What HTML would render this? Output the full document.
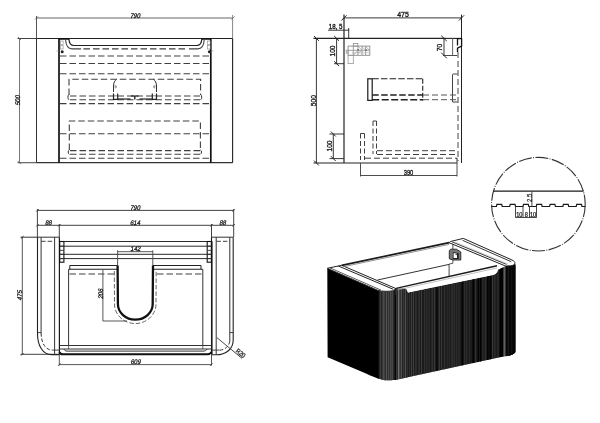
<!DOCTYPE html>
<html><head><meta charset="utf-8"><style>
html,body{margin:0;padding:0;background:#fff;width:600px;height:423px;overflow:hidden}
svg{display:block;will-change:transform;filter:blur(0.3px)}
text{font-family:"Liberation Sans",sans-serif}
</style></head><body>
<svg width="600" height="423" viewBox="0 0 600 423">
<defs>
<clipPath id="cc"><circle cx="538.4" cy="204.2" r="47.2"/></clipPath>
<clipPath id="fc"><path d="M378.6,290.6 C381.5,291.4 388,291.6 392.5,290.8 L395,288.6 L406,288.4 L408,292.5 L493,275 C496,274 497.5,272.5 497.8,270 L506.7,265.8 L511.7,265.4 C513.5,264.8 514.6,264.2 514.9,263.8 L515.6,265 L515.6,351.5 C515,354 510,356.3 504.4,356.3 L396.4,379.8 C394,380.2 390,380.5 385,380.2 C382.5,380 380.5,379.5 378.6,378.6 Z"/></clipPath>
</defs>
<rect width="600" height="423" fill="#fff"/>
<line x1="36.5" y1="18" x2="232.6" y2="18" stroke="#666" stroke-width="1.0"/>
<line x1="36.5" y1="16" x2="36.5" y2="38.5" stroke="#555" stroke-width="1.0"/>
<line x1="232.6" y1="15" x2="232.6" y2="38.5" stroke="#888" stroke-width="1.0"/>
<line x1="35" y1="19.5" x2="38" y2="16.5" stroke="#666" stroke-width="0.8"/>
<line x1="231.5" y1="19.5" x2="234.5" y2="16.5" stroke="#666" stroke-width="0.8"/>
<text transform="translate(135,17.7) scale(0.9,1) skewX(-12)" font-size="6.7" text-anchor="middle" fill="#1a1a1a" stroke="#1a1a1a" stroke-width="0.3">790</text>
<line x1="19.5" y1="38.5" x2="19.5" y2="162.7" stroke="#777" stroke-width="1.0"/>
<line x1="17.5" y1="38.5" x2="36.5" y2="38.5" stroke="#444" stroke-width="1.0"/>
<line x1="17.5" y1="162.7" x2="36.5" y2="162.7" stroke="#555" stroke-width="1.1"/>
<line x1="18" y1="161.2" x2="21" y2="164.2" stroke="#555" stroke-width="0.8"/>
<line x1="18" y1="37" x2="21" y2="40" stroke="#555" stroke-width="0.8"/>
<text transform="translate(20.2,100.5) rotate(-90) scale(0.9,1) skewX(-12)" font-size="6.7" text-anchor="middle" fill="#1a1a1a" stroke="#1a1a1a" stroke-width="0.3">500</text>
<line x1="36.5" y1="38.5" x2="232.6" y2="38.5" stroke="#222" stroke-width="1.1"/>
<line x1="36.5" y1="162.7" x2="232.6" y2="162.7" stroke="#333" stroke-width="1.2"/>
<line x1="36.5" y1="38.5" x2="36.5" y2="162.7" stroke="#333" stroke-width="1.0"/>
<line x1="232.6" y1="38.5" x2="232.6" y2="162.7" stroke="#222" stroke-width="1.1"/>
<line x1="59" y1="38.5" x2="59" y2="162.7" stroke="#111" stroke-width="1.7"/>
<line x1="210.8" y1="38.5" x2="210.8" y2="162.7" stroke="#111" stroke-width="1.7"/>
<path d="M69,38.7 C69,43 70,45.5 74,45.5 L196.5,45.5 C200.5,45.5 201.7,43 201.8,38.7" fill="none" stroke="#222" stroke-width="1.2"/>
<path d="M65.6,40 C66,45 67.5,48.9 72,48.9 L81,48.9" fill="none" stroke="#444" stroke-width="1.1"/>
<path d="M204.2,40 C203.8,45 202.3,48.9 197.8,48.9 L189,48.9" fill="none" stroke="#444" stroke-width="1.1"/>
<line x1="59" y1="38.9" x2="69" y2="38.9" stroke="#111" stroke-width="1.7"/>
<line x1="201.8" y1="38.9" x2="210.8" y2="38.9" stroke="#111" stroke-width="1.7"/>
<line x1="83.5" y1="48.9" x2="187" y2="48.9" stroke="#404040" stroke-width="1.1" stroke-dasharray="6.5,3"/>
<line x1="60" y1="56" x2="210" y2="56" stroke="#404040" stroke-width="1.1" stroke-dasharray="6.5,3"/>
<line x1="60" y1="63.5" x2="210" y2="63.5" stroke="#404040" stroke-width="1.1" stroke-dasharray="6.5,3"/>
<line x1="60" y1="73.8" x2="210" y2="73.8" stroke="#404040" stroke-width="1.1" stroke-dasharray="6.5,3"/>
<line x1="60" y1="103.6" x2="210" y2="103.6" stroke="#404040" stroke-width="1.1" stroke-dasharray="6.5,3"/>
<line x1="60" y1="133.8" x2="210" y2="133.8" stroke="#404040" stroke-width="1.1" stroke-dasharray="6.5,3"/>
<line x1="60" y1="158.3" x2="210" y2="158.3" stroke="#404040" stroke-width="1.1" stroke-dasharray="6.5,3"/>
<path d="M69,95 L69,79.3 L200.6,79.3 L200.6,95" fill="none" stroke="#404040" stroke-width="1.1" stroke-dasharray="6.5,3"/>
<path d="M69,94.5 C67.5,95.5 67.5,99 69,99.8" fill="none" stroke="#333" stroke-width="1.0"/>
<path d="M200.6,94.5 C202.1,95.5 202.1,99 200.6,99.8" fill="none" stroke="#333" stroke-width="1.0"/>
<line x1="70" y1="96" x2="200" y2="96" stroke="#404040" stroke-width="1.1" stroke-dasharray="6.5,3"/>
<line x1="70" y1="99.8" x2="200" y2="99.8" stroke="#404040" stroke-width="1.1" stroke-dasharray="6.5,3"/>
<path d="M69.3,150 L69.3,121 L200.4,121 L200.4,150" fill="none" stroke="#404040" stroke-width="1.1" stroke-dasharray="6.5,3"/>
<path d="M69.3,150 C67.8,150.5 67.8,153.5 69.3,154.3" fill="none" stroke="#333" stroke-width="1.0"/>
<path d="M200.4,150 C201.9,150.5 201.9,153.5 200.4,154.3" fill="none" stroke="#333" stroke-width="1.0"/>
<line x1="70" y1="150.6" x2="200" y2="150.6" stroke="#404040" stroke-width="1.1" stroke-dasharray="6.5,3"/>
<line x1="70" y1="154.3" x2="200" y2="154.3" stroke="#404040" stroke-width="1.1" stroke-dasharray="6.5,3"/>
<path d="M116.7,79.2 C114.7,80.5 113.5,83 113.5,86 L113.5,92" fill="none" stroke="#333" stroke-width="1.0"/>
<path d="M115.2,85 L115.2,88.5 M116.2,85.5 L116.2,88" fill="none" stroke="#555" stroke-width="0.6"/>
<path d="M113.5,93.5 L113.5,99.3 L117.7,99.3 L117.7,93.5" fill="none" stroke="#222" stroke-width="1.2"/>
<line x1="114.5" y1="95.8" x2="117.1" y2="95.8" stroke="#555" stroke-width="0.7"/>
<path d="M153.3,79.2 C155.3,80.5 156.5,83 156.5,86 L156.5,92" fill="none" stroke="#333" stroke-width="1.0"/>
<path d="M154.8,85 L154.8,88.5 M153.8,85.5 L153.8,88" fill="none" stroke="#555" stroke-width="0.6"/>
<path d="M156.5,93.5 L156.5,99.3 L152.3,99.3 L152.3,93.5" fill="none" stroke="#222" stroke-width="1.2"/>
<line x1="155.5" y1="95.8" x2="152.9" y2="95.8" stroke="#555" stroke-width="0.7"/>
<line x1="117.7" y1="99" x2="130.5" y2="99" stroke="#222" stroke-width="1.2"/>
<line x1="139.5" y1="99" x2="152.3" y2="99" stroke="#222" stroke-width="1.2"/>
<line x1="131" y1="96" x2="138.5" y2="96" stroke="#222" stroke-width="1.2"/>
<line x1="134.8" y1="96" x2="134.8" y2="99.5" stroke="#222" stroke-width="1.4"/>
<rect x="60.3" y="41" width="2.8" height="3.5" fill="none" stroke="#888" stroke-width="0.6"/>
<rect x="60.3" y="45.5" width="2.8" height="3.5" fill="none" stroke="#888" stroke-width="0.6"/>
<circle cx="62.199999999999996" cy="51.7" r="1.5" fill="#222"/>
<rect x="207.5" y="41" width="2.8" height="3.5" fill="none" stroke="#888" stroke-width="0.6"/>
<rect x="207.5" y="45.5" width="2.8" height="3.5" fill="none" stroke="#888" stroke-width="0.6"/>
<circle cx="209.4" cy="51.7" r="1.5" fill="#222"/>
<line x1="56.5" y1="51" x2="59" y2="51" stroke="#888" stroke-width="0.6"/>
<line x1="210.8" y1="51" x2="213.5" y2="51" stroke="#888" stroke-width="0.6"/>
<line x1="344" y1="17.9" x2="461.5" y2="17.9" stroke="#222" stroke-width="0.9"/>
<line x1="341.4" y1="20.5" x2="346.6" y2="15.299999999999999" stroke="#222" stroke-width="1.0"/>
<line x1="458.9" y1="20.5" x2="464.1" y2="15.299999999999999" stroke="#222" stroke-width="1.0"/>
<text transform="translate(403,16.9) scale(0.92,1)" font-size="7.6" text-anchor="middle" fill="#1a1a1a" stroke="#1a1a1a" stroke-width="0.35">475</text>
<line x1="344" y1="14.6" x2="344" y2="163" stroke="#222" stroke-width="1.2"/>
<line x1="461.5" y1="14.6" x2="461.5" y2="163" stroke="#222" stroke-width="1.0"/>
<text transform="translate(335.6,29.4) scale(0.86,1)" font-size="7.2" text-anchor="middle" fill="#1a1a1a" stroke="#1a1a1a" stroke-width="0.35">18, 5</text>
<line x1="328" y1="30.2" x2="349.2" y2="30.2" stroke="#222" stroke-width="0.9"/>
<line x1="348.7" y1="28" x2="348.7" y2="38.5" stroke="#222" stroke-width="0.9"/>
<line x1="313.5" y1="38.4" x2="446" y2="38.4" stroke="#222" stroke-width="1.1"/>
<line x1="313.5" y1="163" x2="457" y2="163" stroke="#222" stroke-width="1.1"/>
<line x1="316.4" y1="38.4" x2="316.4" y2="163" stroke="#222" stroke-width="0.9"/>
<line x1="314.0" y1="36.0" x2="318.79999999999995" y2="40.8" stroke="#222" stroke-width="1.0"/>
<line x1="314.0" y1="160.6" x2="318.79999999999995" y2="165.4" stroke="#222" stroke-width="1.0"/>
<text transform="translate(315.9,100.7) rotate(-90) scale(0.84,1)" font-size="8" text-anchor="middle" fill="#1a1a1a" stroke="#1a1a1a" stroke-width="0.35">500</text>
<line x1="336.6" y1="38.4" x2="336.6" y2="63.7" stroke="#222" stroke-width="0.9"/>
<line x1="334.20000000000005" y1="36.0" x2="339.0" y2="40.8" stroke="#222" stroke-width="1.0"/>
<line x1="334.20000000000005" y1="61.300000000000004" x2="339.0" y2="66.10000000000001" stroke="#222" stroke-width="1.0"/>
<line x1="334" y1="63.7" x2="344" y2="63.7" stroke="#222" stroke-width="0.9"/>
<text transform="translate(335.3,51) rotate(-90) scale(0.86,1)" font-size="7.8" text-anchor="middle" fill="#1a1a1a" stroke="#1a1a1a" stroke-width="0.35">100</text>
<line x1="333.3" y1="134" x2="333.3" y2="158.6" stroke="#222" stroke-width="0.9"/>
<line x1="330.90000000000003" y1="131.6" x2="335.7" y2="136.4" stroke="#222" stroke-width="1.0"/>
<line x1="330.90000000000003" y1="156.2" x2="335.7" y2="161.0" stroke="#222" stroke-width="1.0"/>
<line x1="329.5" y1="134" x2="344" y2="134" stroke="#222" stroke-width="0.9"/>
<line x1="329.5" y1="158.6" x2="344" y2="158.6" stroke="#222" stroke-width="0.9"/>
<text transform="translate(331.8,146) rotate(-90) scale(0.86,1)" font-size="7.8" text-anchor="middle" fill="#1a1a1a" stroke="#1a1a1a" stroke-width="0.35">100</text>
<line x1="444" y1="38.4" x2="444" y2="55.5" stroke="#222" stroke-width="0.9"/>
<line x1="441.2" y1="35.6" x2="446.8" y2="41.199999999999996" stroke="#222" stroke-width="1.0"/>
<line x1="441.2" y1="52.7" x2="446.8" y2="58.3" stroke="#222" stroke-width="1.0"/>
<line x1="443" y1="55.5" x2="457.2" y2="55.5" stroke="#333" stroke-width="0.9"/>
<text transform="translate(442.2,47.5) rotate(-90) scale(0.86,1)" font-size="7.8" text-anchor="middle" fill="#1a1a1a" stroke="#1a1a1a" stroke-width="0.35">70</text>
<line x1="446" y1="38.4" x2="461.5" y2="38.4" stroke="#222" stroke-width="1.1"/>
<path d="M457.5,45.4 L457.5,38.6 L461.6,38.6 L461.6,46 L457.5,48.2 L457.5,52" fill="none" stroke="#111" stroke-width="1.3"/>
<line x1="452.6" y1="38.4" x2="452.6" y2="55.5" stroke="#555" stroke-width="0.9"/>
<line x1="458" y1="52" x2="458" y2="161" stroke="#444" stroke-width="1.0" stroke-dasharray="6,3"/>
<path d="M457.5,74 L453.5,74 Q452.5,74 452.5,75 L452.5,102 L457.5,102" fill="none" stroke="#444" stroke-width="1.0"/>
<rect x="353.3" y="43.4" width="4.6" height="2.7" fill="none" stroke="#8c8c8c" stroke-width="0.8"/>
<rect x="348.1" y="46.1" width="21.7" height="9.2" fill="none" stroke="#8c8c8c" stroke-width="0.9"/>
<line x1="348.1" y1="50.3" x2="369.8" y2="50.3" stroke="#8c8c8c" stroke-width="0.8"/>
<line x1="352" y1="52.8" x2="369.8" y2="52.8" stroke="#aaa" stroke-width="0.6"/>
<line x1="353.3" y1="46.1" x2="353.3" y2="55.3" stroke="#8c8c8c" stroke-width="0.8"/>
<line x1="357.9" y1="46.1" x2="357.9" y2="55.3" stroke="#8c8c8c" stroke-width="0.8"/>
<line x1="362" y1="46.1" x2="362" y2="55.3" stroke="#8c8c8c" stroke-width="0.8"/>
<line x1="365.6" y1="46.1" x2="365.6" y2="55.3" stroke="#8c8c8c" stroke-width="0.8"/>
<line x1="357.9" y1="46.1" x2="362" y2="50.3" stroke="#999" stroke-width="0.7"/>
<line x1="362" y1="46.6" x2="365.6" y2="50.3" stroke="#999" stroke-width="0.7"/>
<line x1="365.6" y1="46.6" x2="369.8" y2="50.3" stroke="#999" stroke-width="0.7"/>
<line x1="353.3" y1="55.3" x2="357.9" y2="50.3" stroke="#999" stroke-width="0.7"/>
<line x1="358" y1="53" x2="362" y2="50.3" stroke="#999" stroke-width="0.7"/>
<circle cx="358.2" cy="49.8" r="0.9" fill="#666"/><circle cx="366.2" cy="50.1" r="0.9" fill="#666"/>
<rect x="346.2" y="50.1" width="1.9" height="3.1" fill="none" stroke="#8c8c8c" stroke-width="0.7"/>
<rect x="348.1" y="55.3" width="5.2" height="8.3" fill="none" stroke="#999" stroke-width="0.8"/>
<rect x="367.8" y="78.8" width="4.4" height="21.6" fill="none" stroke="#1a1a1a" stroke-width="1.2"/>
<line x1="372.2" y1="78.8" x2="422.7" y2="78.8" stroke="#222" stroke-width="1.1" stroke-dasharray="6.5,2.2"/>
<line x1="422.7" y1="78.8" x2="422.7" y2="100.4" stroke="#333" stroke-width="1.2" stroke-dasharray="5,2"/>
<line x1="372.2" y1="95" x2="423" y2="95" stroke="#222" stroke-width="1.5" stroke-dasharray="6.5,2.5"/>
<line x1="423" y1="95" x2="457" y2="95" stroke="#555" stroke-width="1.0" stroke-dasharray="6,3"/>
<line x1="372.2" y1="99.7" x2="423" y2="99.7" stroke="#222" stroke-width="1.4" stroke-dasharray="7,2.5"/>
<line x1="423" y1="99.7" x2="457" y2="99.7" stroke="#555" stroke-width="1.0" stroke-dasharray="6,3"/>
<line x1="360.5" y1="133.5" x2="360.5" y2="160" stroke="#404040" stroke-width="1.0" stroke-dasharray="5,2.5"/>
<line x1="364.5" y1="133.5" x2="364.5" y2="160" stroke="#404040" stroke-width="1.0" stroke-dasharray="5,2.5"/>
<line x1="360.5" y1="133.5" x2="364.5" y2="133.5" stroke="#404040" stroke-width="1.0"/>
<line x1="373" y1="121" x2="373" y2="154" stroke="#404040" stroke-width="1.0" stroke-dasharray="5,2.5"/>
<line x1="376.5" y1="121" x2="376.5" y2="154" stroke="#404040" stroke-width="1.0" stroke-dasharray="5,2.5"/>
<line x1="373" y1="121" x2="376.5" y2="121" stroke="#404040" stroke-width="1.0"/>
<line x1="377" y1="150.7" x2="457" y2="150.7" stroke="#404040" stroke-width="1.0" stroke-dasharray="6,3"/>
<line x1="377" y1="154.5" x2="457" y2="154.5" stroke="#404040" stroke-width="1.0" stroke-dasharray="6,3"/>
<line x1="365" y1="158.2" x2="457" y2="158.2" stroke="#404040" stroke-width="1.0" stroke-dasharray="6,3"/>
<line x1="457" y1="158" x2="457" y2="163" stroke="#333" stroke-width="1.0"/>
<line x1="360.5" y1="163" x2="360.5" y2="176.5" stroke="#3a3a3a" stroke-width="0.9"/>
<line x1="457" y1="163" x2="457" y2="176.5" stroke="#3a3a3a" stroke-width="0.9"/>
<line x1="360.5" y1="175.5" x2="457" y2="175.5" stroke="#3a3a3a" stroke-width="0.9"/>
<text transform="translate(408.5,174.6) scale(0.82,1)" font-size="7" text-anchor="middle" fill="#222" stroke="#222" stroke-width="0.35">390</text>
<circle cx="538.4" cy="204.2" r="46.8" fill="none" stroke="#333" stroke-width="1.1" stroke-dasharray="13,1.4,0.9,1.4"/>
<line x1="493.3" y1="191.2" x2="583.5" y2="191.2" stroke="#1a1a1a" stroke-width="1.3"/>
<path d="M490,206.5 L483.10,206.5 L483.60,204.4 L488.40,204.4 L488.90,206.5 L496.40,206.5 L496.90,204.4 L501.70,204.4 L502.20,206.5 L509.70,206.5 L510.20,204.4 L515.00,204.4 L515.50,206.5 L523.00,206.5 L523.50,204.4 L528.30,204.4 L528.80,206.5 L536.30,206.5 L536.80,204.4 L541.60,204.4 L542.10,206.5 L549.60,206.5 L550.10,204.4 L554.90,204.4 L555.40,206.5 L562.90,206.5 L563.40,204.4 L568.20,204.4 L568.70,206.5 L576.20,206.5 L576.70,204.4 L581.50,204.4 L582.00,206.5 L589.50,206.5 L590.00,204.4 L594.80,204.4 L595.30,206.5" fill="none" stroke="#1a1a1a" stroke-width="1.2" clip-path="url(#cc)"/>
<line x1="515.5" y1="206.3" x2="515.5" y2="217.5" stroke="#333" stroke-width="0.9"/>
<line x1="523" y1="206.3" x2="523" y2="217.5" stroke="#333" stroke-width="0.9"/>
<line x1="529.5" y1="206.3" x2="529.5" y2="217.5" stroke="#333" stroke-width="0.9"/>
<line x1="536.5" y1="206.3" x2="536.5" y2="217.5" stroke="#333" stroke-width="0.9"/>
<line x1="515.5" y1="217.5" x2="536.5" y2="217.5" stroke="#333" stroke-width="0.9"/>
<text transform="translate(519.3,216.8) scale(0.85,1)" font-size="6.6" text-anchor="middle" fill="#1a1a1a" stroke="#1a1a1a" stroke-width="0.25">10</text>
<text transform="translate(526.3,216.8) scale(0.85,1)" font-size="6.6" text-anchor="middle" fill="#1a1a1a" stroke="#1a1a1a" stroke-width="0.25">8</text>
<text transform="translate(533.1,216.8) scale(0.85,1)" font-size="6.6" text-anchor="middle" fill="#1a1a1a" stroke="#1a1a1a" stroke-width="0.25">10</text>
<line x1="531.9" y1="191.5" x2="531.9" y2="206" stroke="#333" stroke-width="0.9"/>
<text transform="translate(532.3,197.8) rotate(-90) scale(0.9,1)" font-size="6.6" text-anchor="middle" fill="#1a1a1a" stroke="#1a1a1a" stroke-width="0.2">2.5</text>
<line x1="37.4" y1="210.4" x2="233.7" y2="210.4" stroke="#444" stroke-width="1.0"/>
<line x1="37.4" y1="209" x2="37.4" y2="237.2" stroke="#444" stroke-width="1.0"/>
<line x1="233.7" y1="209" x2="233.7" y2="237.2" stroke="#444" stroke-width="1.0"/>
<text transform="translate(135,209.6) scale(0.9,1) skewX(-12)" font-size="6.7" text-anchor="middle" fill="#1a1a1a" stroke="#1a1a1a" stroke-width="0.3">790</text>
<line x1="37.4" y1="225.3" x2="233.7" y2="225.3" stroke="#444" stroke-width="1.0"/>
<line x1="59.3" y1="224" x2="59.3" y2="237.2" stroke="#444" stroke-width="1.0"/>
<line x1="211.5" y1="224" x2="211.5" y2="237.2" stroke="#444" stroke-width="1.0"/>
<line x1="36.199999999999996" y1="226.5" x2="38.6" y2="224.1" stroke="#333" stroke-width="0.9"/>
<line x1="58.099999999999994" y1="226.5" x2="60.5" y2="224.1" stroke="#333" stroke-width="0.9"/>
<line x1="210.3" y1="226.5" x2="212.7" y2="224.1" stroke="#333" stroke-width="0.9"/>
<line x1="232.5" y1="226.5" x2="234.89999999999998" y2="224.1" stroke="#333" stroke-width="0.9"/>
<line x1="36.2" y1="211.6" x2="38.6" y2="209.2" stroke="#333" stroke-width="0.9"/>
<line x1="232.5" y1="211.6" x2="234.9" y2="209.2" stroke="#333" stroke-width="0.9"/>
<text transform="translate(48.3,224.5) scale(0.9,1) skewX(-12)" font-size="6.7" text-anchor="middle" fill="#1a1a1a" stroke="#1a1a1a" stroke-width="0.3">88</text>
<text transform="translate(135,224.5) scale(0.9,1) skewX(-12)" font-size="6.7" text-anchor="middle" fill="#1a1a1a" stroke="#1a1a1a" stroke-width="0.3">614</text>
<text transform="translate(222.6,224.5) scale(0.9,1) skewX(-12)" font-size="6.7" text-anchor="middle" fill="#1a1a1a" stroke="#1a1a1a" stroke-width="0.3">88</text>
<line x1="22.3" y1="237.2" x2="22.3" y2="354.3" stroke="#555" stroke-width="1.0"/>
<line x1="20.5" y1="237.2" x2="59.3" y2="237.2" stroke="#333" stroke-width="1.0"/>
<line x1="20.5" y1="354.3" x2="59.3" y2="354.3" stroke="#444" stroke-width="1.0"/>
<line x1="21" y1="238.5" x2="23.6" y2="236" stroke="#333" stroke-width="0.9"/>
<line x1="21" y1="355.6" x2="23.6" y2="353" stroke="#333" stroke-width="0.9"/>
<text transform="translate(22.4,295.5) rotate(-90) scale(0.9,1) skewX(-12)" font-size="6.7" text-anchor="middle" fill="#1a1a1a" stroke="#1a1a1a" stroke-width="0.3">475</text>
<path d="M37.5,237.2 L37.5,333.5 C37.5,346 43,354.6 51.5,354.6 L59.4,354.6" fill="none" stroke="#222" stroke-width="1.1"/>
<line x1="41.1" y1="237.2" x2="41.1" y2="333" stroke="#333" stroke-width="1.0"/>
<line x1="37.5" y1="332.6" x2="41.1" y2="332.6" stroke="#333" stroke-width="0.9"/>
<path d="M41.1,333 C41.1,343 45.5,350.1 52.5,350.1" fill="none" stroke="#333" stroke-width="1.0" stroke-dasharray="3.5,2"/>
<line x1="52.5" y1="350.1" x2="59.4" y2="350.1" stroke="#333" stroke-width="0.9"/>
<line x1="41.1" y1="241.3" x2="54.4" y2="241.3" stroke="#404040" stroke-width="1.0" stroke-dasharray="4.5,2"/>
<line x1="54.6" y1="237.2" x2="54.6" y2="354.6" stroke="#333" stroke-width="1.0"/>
<line x1="59.4" y1="237.2" x2="59.4" y2="354.6" stroke="#1a1a1a" stroke-width="1.2"/>
<path d="M233.2,237.2 L233.2,340 C233.2,349 226,354.8 216.2,354.8 L211.6,354.8" fill="none" stroke="#222" stroke-width="1.1"/>
<line x1="229.8" y1="237.2" x2="229.8" y2="341.2" stroke="#333" stroke-width="1.0"/>
<line x1="229.8" y1="332.6" x2="233.2" y2="332.6" stroke="#333" stroke-width="0.9"/>
<path d="M229.8,341.2 C229,346 225,350.1 219.5,350.1" fill="none" stroke="#333" stroke-width="1.0" stroke-dasharray="3.5,2"/>
<line x1="219.5" y1="350.1" x2="211.6" y2="350.1" stroke="#333" stroke-width="0.9"/>
<line x1="216.4" y1="241.3" x2="229.8" y2="241.3" stroke="#404040" stroke-width="1.0" stroke-dasharray="4.5,2"/>
<line x1="216.2" y1="237.2" x2="216.2" y2="354.8" stroke="#333" stroke-width="1.0"/>
<line x1="212.4" y1="241.3" x2="212.4" y2="354.8" stroke="#444" stroke-width="0.8"/>
<line x1="211.5" y1="237.2" x2="211.5" y2="354.8" stroke="#1a1a1a" stroke-width="1.1"/>
<line x1="211.5" y1="237.2" x2="233.2" y2="237.2" stroke="#333" stroke-width="1.0"/>
<line x1="217" y1="337.7" x2="242" y2="358.4" stroke="#333" stroke-width="0.9"/>
<text transform="translate(239.3,354.9) rotate(39) scale(0.85,1)" font-size="6.6" text-anchor="middle" fill="#1a1a1a" stroke="#1a1a1a" stroke-width="0.3">R20</text>
<line x1="60" y1="241.5" x2="211" y2="241.5" stroke="#2a2a2a" stroke-width="1.0"/>
<line x1="60" y1="246.2" x2="211" y2="246.2" stroke="#2a2a2a" stroke-width="1.0"/>
<line x1="60" y1="254.3" x2="211" y2="254.3" stroke="#2a2a2a" stroke-width="1.0"/>
<line x1="60" y1="258.6" x2="211" y2="258.6" stroke="#2a2a2a" stroke-width="1.0"/>
<rect x="59.7" y="241.5" width="4.2" height="20.7" fill="none" stroke="#111" stroke-width="1.1"/>
<line x1="59.7" y1="246.2" x2="63.900000000000006" y2="246.2" stroke="#333" stroke-width="0.9"/>
<line x1="59.7" y1="250.4" x2="63.900000000000006" y2="250.4" stroke="#333" stroke-width="0.9"/>
<line x1="59.7" y1="254.3" x2="63.900000000000006" y2="254.3" stroke="#333" stroke-width="0.9"/>
<line x1="59.7" y1="258.6" x2="63.900000000000006" y2="258.6" stroke="#333" stroke-width="0.9"/>
<rect x="207.2" y="241.5" width="4.2" height="20.7" fill="none" stroke="#111" stroke-width="1.1"/>
<line x1="207.2" y1="246.2" x2="211.39999999999998" y2="246.2" stroke="#333" stroke-width="0.9"/>
<line x1="207.2" y1="250.4" x2="211.39999999999998" y2="250.4" stroke="#333" stroke-width="0.9"/>
<line x1="207.2" y1="254.3" x2="211.39999999999998" y2="254.3" stroke="#333" stroke-width="0.9"/>
<line x1="207.2" y1="258.6" x2="211.39999999999998" y2="258.6" stroke="#333" stroke-width="0.9"/>
<line x1="117.6" y1="251.7" x2="152.8" y2="251.7" stroke="#444" stroke-width="0.9"/>
<line x1="117.6" y1="250.3" x2="117.6" y2="265.5" stroke="#444" stroke-width="0.9"/>
<line x1="152.8" y1="250.3" x2="152.8" y2="265.5" stroke="#444" stroke-width="0.9"/>
<text transform="translate(135.3,250.9) scale(0.9,1) skewX(-12)" font-size="6.7" text-anchor="middle" fill="#1a1a1a" stroke="#1a1a1a" stroke-width="0.3">142</text>
<line x1="69.8" y1="265.5" x2="117.6" y2="265.5" stroke="#222" stroke-width="1.1"/>
<line x1="152.8" y1="265.5" x2="201" y2="265.5" stroke="#222" stroke-width="1.1"/>
<line x1="69.8" y1="265.5" x2="69.8" y2="269.3" stroke="#222" stroke-width="1.0"/>
<line x1="201" y1="265.5" x2="201" y2="269.3" stroke="#222" stroke-width="1.0"/>
<line x1="68.6" y1="269.3" x2="117.6" y2="269.3" stroke="#222" stroke-width="1.1"/>
<line x1="152.8" y1="269.3" x2="202.8" y2="269.3" stroke="#222" stroke-width="1.1"/>
<line x1="69.5" y1="274" x2="114" y2="274" stroke="#404040" stroke-width="1.1" stroke-dasharray="6.5,3"/>
<line x1="157" y1="274" x2="202" y2="274" stroke="#404040" stroke-width="1.1" stroke-dasharray="6.5,3"/>
<line x1="68.6" y1="269.3" x2="68.6" y2="345.5" stroke="#333" stroke-width="1.0"/>
<line x1="202.8" y1="269.3" x2="202.8" y2="345.5" stroke="#333" stroke-width="1.0"/>
<path d="M117.6,265.5 L117.9,304 A17.4,15.6 0 0 0 152.7,304 L153,265.5" fill="none" stroke="#111" stroke-width="2.3"/>
<path d="M114.3,271 L114.5,304 A20.7,19.5 0 0 0 156,304 L156.2,271" fill="none" stroke="#666" stroke-width="1.0" stroke-dasharray="4.5,2"/>
<line x1="102.9" y1="269.3" x2="102.9" y2="321" stroke="#444" stroke-width="0.9"/>
<line x1="102.9" y1="321" x2="127" y2="321" stroke="#444" stroke-width="0.9"/>
<text transform="translate(102.6,294) rotate(-90) scale(0.9,1) skewX(-12)" font-size="6.7" text-anchor="middle" fill="#1a1a1a" stroke="#1a1a1a" stroke-width="0.3">206</text>
<line x1="59.3" y1="345.5" x2="211.5" y2="345.5" stroke="#333" stroke-width="1.0"/>
<line x1="59.3" y1="349" x2="211.5" y2="349" stroke="#333" stroke-width="1.0"/>
<path d="M64,349 C64.5,350.5 65.5,351.1 67,351.1 L203,351.1 C205,351.1 206.5,350.5 207,349" fill="none" stroke="#333" stroke-width="1.0"/>
<path d="M59.3,352 C60,353.6 61,354.3 63,354.3 L207,354.3 C209,354.3 210.5,353.6 211.5,352" fill="none" stroke="#111" stroke-width="1.9"/>
<line x1="68.6" y1="345.5" x2="68.6" y2="349" stroke="#444" stroke-width="0.8"/>
<line x1="202.8" y1="345.5" x2="202.8" y2="349" stroke="#444" stroke-width="0.8"/>
<line x1="59.3" y1="354.3" x2="59.3" y2="365.5" stroke="#444" stroke-width="0.9"/>
<line x1="211.5" y1="354.7" x2="211.5" y2="365.5" stroke="#444" stroke-width="0.9"/>
<line x1="59.3" y1="364.6" x2="211.5" y2="364.6" stroke="#444" stroke-width="0.9"/>
<line x1="58.1" y1="365.8" x2="60.5" y2="363.4" stroke="#333" stroke-width="0.9"/>
<line x1="210.3" y1="365.8" x2="212.7" y2="363.4" stroke="#333" stroke-width="0.9"/>
<text transform="translate(135.5,363.8) scale(0.9,1) skewX(-12)" font-size="6.7" text-anchor="middle" fill="#1a1a1a" stroke="#1a1a1a" stroke-width="0.3">609</text>
<path d="M327.3,268.3 L379,290.8 L379,378.9 C375,377.6 371,375.8 366,373.5 L327.6,357.3 Z" fill="#000"/>
<path d="M378.6,290.6 C381.5,291.4 388,291.6 392.5,290.8 L395,288.6 L406,288.4 L408,292.5 L493,275 C496,274 497.5,272.5 497.8,270 L506.7,265.8 L511.7,265.4 C513.5,264.8 514.6,264.2 514.9,263.8 L515.6,265 L515.6,351.5 C515,354 510,356.3 504.4,356.3 L396.4,379.8 C394,380.2 390,380.5 385,380.2 C382.5,380 380.5,379.5 378.6,378.6 Z" fill="#1c1c1c"/>
<g clip-path="url(#fc)"><rect x="376.00" y="255" width="2.60" height="130" fill="#000"/><rect x="378.60" y="255" width="0.80" height="130" fill="#333"/><rect x="379.40" y="255" width="1.00" height="130" fill="#222"/><rect x="380.40" y="255" width="0.90" height="130" fill="#555"/><rect x="381.30" y="255" width="0.90" height="130" fill="#222"/><rect x="382.30" y="255" width="0.90" height="130" fill="#444"/><rect x="383.50" y="255" width="1.00" height="130" fill="#777"/><rect x="384.60" y="255" width="0.90" height="130" fill="#333"/><rect x="385.90" y="255" width="0.90" height="130" fill="#666"/><rect x="386.90" y="255" width="0.90" height="130" fill="#333"/><rect x="387.90" y="255" width="0.90" height="130" fill="#555"/><rect x="388.90" y="255" width="0.90" height="130" fill="#333"/><rect x="389.90" y="255" width="0.90" height="130" fill="#555"/><rect x="390.90" y="255" width="0.90" height="130" fill="#444"/><rect x="391.90" y="255" width="0.90" height="130" fill="#555"/><rect x="392.90" y="255" width="0.90" height="130" fill="#333"/><rect x="393.70" y="255" width="1.00" height="130" fill="#222"/><rect x="394.80" y="255" width="1.20" height="130" fill="#000"/><rect x="395.90" y="255" width="0.90" height="130" fill="#444"/><rect x="396.90" y="255" width="0.90" height="130" fill="#222"/><rect x="397.90" y="255" width="0.90" height="130" fill="#888"/><rect x="398.90" y="255" width="0.90" height="130" fill="#555"/><rect x="399.90" y="255" width="0.90" height="130" fill="#333"/><rect x="400.90" y="255" width="0.90" height="130" fill="#666"/><rect x="401.90" y="255" width="0.90" height="130" fill="#222"/><rect x="402.90" y="255" width="0.90" height="130" fill="#444"/><rect x="403.90" y="255" width="0.90" height="130" fill="#222"/><rect x="404.90" y="255" width="0.90" height="130" fill="#666"/><rect x="405.90" y="255" width="0.90" height="130" fill="#222"/><rect x="406.90" y="255" width="0.90" height="130" fill="#333"/><rect x="409.00" y="255" width="0.90" height="130" fill="#333"/><rect x="411.00" y="255" width="0.90" height="130" fill="#444"/><rect x="413.00" y="255" width="0.90" height="130" fill="#444"/><rect x="415.50" y="255" width="0.90" height="130" fill="#404040"/><rect x="418.60" y="255" width="0.90" height="130" fill="#404040"/><rect x="421.10" y="255" width="0.90" height="130" fill="#404040"/><rect x="424.20" y="255" width="0.90" height="130" fill="#363636"/><rect x="426.40" y="255" width="0.90" height="130" fill="#363636"/><rect x="428.60" y="255" width="0.90" height="130" fill="#333"/><rect x="431.70" y="255" width="0.90" height="130" fill="#404040"/><rect x="434.20" y="255" width="0.90" height="130" fill="#404040"/><rect x="436.40" y="255" width="1.20" height="130" fill="#030303"/><rect x="438.80" y="255" width="0.90" height="130" fill="#404040"/><rect x="441.00" y="255" width="0.90" height="130" fill="#3a3a3a"/><rect x="444.10" y="255" width="0.90" height="130" fill="#363636"/><rect x="446.60" y="255" width="0.90" height="130" fill="#2e2e2e"/><rect x="448.80" y="255" width="0.90" height="130" fill="#2e2e2e"/><rect x="451.60" y="255" width="0.90" height="130" fill="#404040"/><rect x="453.80" y="255" width="0.90" height="130" fill="#3a3a3a"/><rect x="456.30" y="255" width="0.90" height="130" fill="#333"/><rect x="458.50" y="255" width="0.90" height="130" fill="#333"/><rect x="461.60" y="255" width="1.60" height="130" fill="#030303"/><rect x="464.00" y="255" width="0.90" height="130" fill="#333"/><rect x="466.20" y="255" width="0.90" height="130" fill="#333"/><rect x="469.30" y="255" width="0.90" height="130" fill="#2e2e2e"/><rect x="472.40" y="255" width="2.20" height="130" fill="#030303"/><rect x="474.80" y="255" width="0.90" height="130" fill="#3a3a3a"/><rect x="477.60" y="255" width="1.60" height="130" fill="#030303"/><rect x="480.00" y="255" width="1.60" height="130" fill="#030303"/><rect x="482.40" y="255" width="0.90" height="130" fill="#333"/><rect x="484.90" y="255" width="0.90" height="130" fill="#333"/><rect x="487.10" y="255" width="1.60" height="130" fill="#030303"/><rect x="489.50" y="255" width="2.20" height="130" fill="#030303"/><rect x="491.90" y="255" width="0.90" height="130" fill="#404040"/><rect x="494.40" y="255" width="0.90" height="130" fill="#363636"/><rect x="497.50" y="255" width="0.90" height="130" fill="#333"/><rect x="499.50" y="255" width="3.80" height="130" fill="#020202"/><rect x="503.60" y="255" width="1.20" height="130" fill="#777"/><rect x="504.80" y="255" width="1.00" height="130" fill="#4a4a4a"/><rect x="505.80" y="255" width="9.80" height="130" fill="#060606"/><rect x="507.80" y="255" width="0.80" height="130" fill="#262626"/><rect x="511.50" y="255" width="0.70" height="130" fill="#1a1a1a"/></g>
<path d="M327.3,268.3 L378,290.4 C382,291.5 389,291.6 392.5,290.8 C394,290.3 395,289.5 395.5,288.4 L341.7,265.3 Z" fill="#fff" stroke="#222" stroke-width="1.0"/>
<line x1="330" y1="267.9" x2="381" y2="290.1" stroke="#333" stroke-width="0.8"/>
<line x1="338.3" y1="266" x2="393.3" y2="289.3" stroke="#222" stroke-width="1.0"/>
<line x1="341.7" y1="265.3" x2="449.1" y2="242.7" stroke="#1a1a1a" stroke-width="1.7"/>
<line x1="344" y1="266.6" x2="449.1" y2="244.4" stroke="#777" stroke-width="0.8"/>
<line x1="377.5" y1="280" x2="449.1" y2="264.4" stroke="#333" stroke-width="1.0"/>
<line x1="449.1" y1="264" x2="449.1" y2="276.8" stroke="#333" stroke-width="0.9"/>
<line x1="452.9" y1="242.7" x2="452.9" y2="249.6" stroke="#333" stroke-width="0.9"/>
<path d="M452.9,260 L452.9,263.3 L449.1,264" fill="none" stroke="#333" stroke-width="0.8"/>
<path d="M449.3,250.5 L450.8,249.2 L456.5,249.2 L460.8,252 L460.8,260 L453,260 L449.3,258.8 Z" fill="#777" stroke="#222" stroke-width="0.9"/>
<path d="M452.8,252 L458.8,253.2 L458.8,259 L452.8,259 Z" fill="#222"/>
<path d="M453.6,253 L457,253.8 L457,258 L453.6,258 Z" fill="#fff"/>
<line x1="455.5" y1="254.6" x2="457" y2="254.6" stroke="#222" stroke-width="0.8"/>
<path d="M449.1,242.7 L450.5,241.5 L463.3,238.4 L512,260 C514,260.8 515,262 515,263.2 C514.3,264.8 513,265.6 510.5,265.8 L505.5,266 Z" fill="#fff" stroke="#222" stroke-width="1.0"/>
<line x1="452" y1="241.8" x2="506.5" y2="264.4" stroke="#222" stroke-width="0.9"/>
<line x1="462.5" y1="240.3" x2="511.2" y2="261.7" stroke="#222" stroke-width="0.9"/>
<line x1="455" y1="242" x2="508" y2="264" stroke="#aaa" stroke-width="0.5"/>
<path d="M396,288.4 L497,265.8 C498.5,266.5 498.2,269 497.8,270 C497.5,272.5 496,274 493,275 L408,292.5 L406,288.4 Z" fill="#fff"/>
<line x1="396" y1="288.4" x2="497" y2="265.8" stroke="#1a1a1a" stroke-width="1.4"/>
<line x1="397" y1="290" x2="497" y2="268" stroke="#999" stroke-width="0.6"/>
<line x1="395.5" y1="288.6" x2="395.5" y2="295" stroke="#222" stroke-width="1"/>
</svg>
</body></html>
